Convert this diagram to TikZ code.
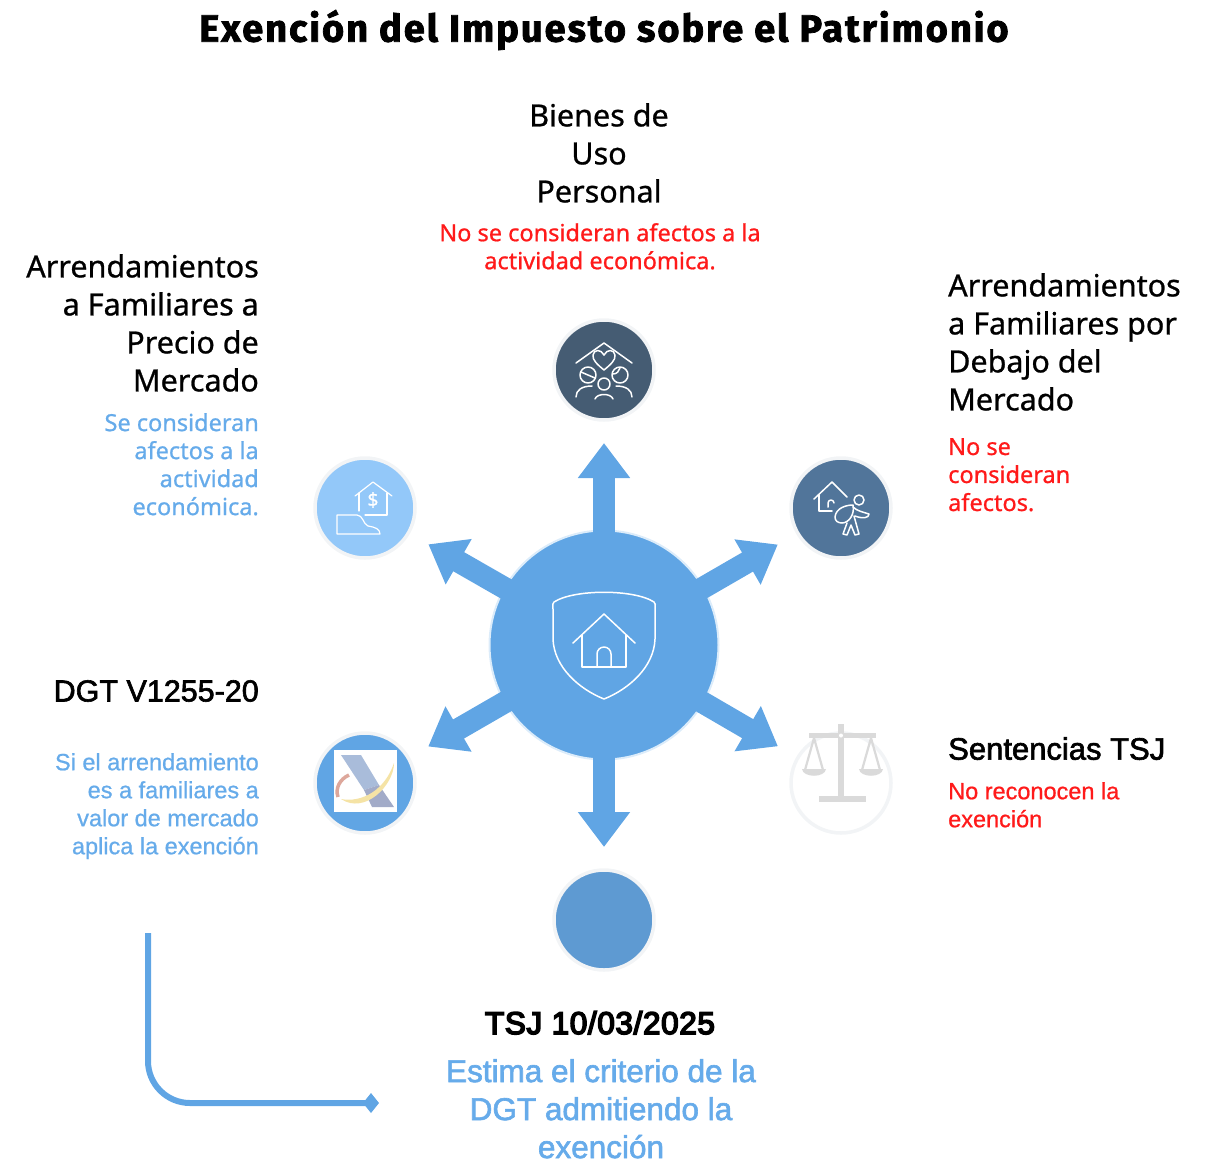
\documentclass[tikz,border=0pt]{standalone}
\usepackage{fontspec}
\setmainfont{Noto Sans}[FakeBold=0.8]
\newfontfamily\titlefont{Fira Sans Bold}[FakeBold=2,LetterSpace=5.2]
\newfontfamily\rfont{Liberation Sans}[FakeBold=0.8]
\newfontfamily\rfontm{Liberation Sans}[FakeBold=2]
\newfontfamily\rfontb{Liberation Sans}[FakeBold=5,LetterSpace=2]
\usetikzlibrary{arrows.meta,calc}
\definecolor{hubblue}{HTML}{60A5E4}
\definecolor{halo}{HTML}{DCECFA}
\definecolor{ringg}{HTML}{F2F4F6}
\definecolor{c1}{HTML}{455C73}
\definecolor{c2}{HTML}{51759A}
\definecolor{c3}{HTML}{93C8F9}
\definecolor{c4}{HTML}{5E9AD2}
\definecolor{subblue}{HTML}{66ABEA}
\definecolor{subred}{HTML}{FF1A1A}
\definecolor{scaleg}{HTML}{DADADA}
\definecolor{bandup}{HTML}{A9BCDA}
\definecolor{banddown}{HTML}{A2ABC8}
\definecolor{swoosh}{HTML}{F5E3A5}
\definecolor{arcred}{HTML}{DDA79B}
\tikzset{
  x=1pt,y=-1pt,
  bubble/.style={circle,minimum size=100pt,inner sep=0pt,outer sep=0pt,draw=ringg,line width=3.5pt},
  spoke/.style={draw=hubblue,line width=22pt,shorten >=23pt,shorten <=-3pt,
    -{Triangle[width=50pt,length=35pt,color=hubblue]}},
  head/.style={inner sep=0pt,font=\fontsize{30.5}{38}\selectfont,text=black},
  subtxt/.style={inner sep=0pt,font=\fontsize{23.5}{28}\selectfont},
  icon/.style={draw=white,line width=1.5pt,line join=round,line cap=round,fill=none},
}
\begin{document}
\begin{tikzpicture}
\useasboundingbox (0,0) rectangle (1210,1168);
% title
\node[inner sep=0pt,font=\fontsize{38}{44}\titlefont\selectfont,anchor=center] (title) at (604,30) {Exención del Impuesto sobre el Patrimonio};
% hub and bubbles
\node[circle,minimum size=229pt,inner sep=0pt,outer sep=0pt,fill=hubblue,draw=halo,line width=2pt] (hub) at (604,645) {};
\node[bubble,fill=c1] (top) at (604,370) {};
\node[bubble,fill=c2] (ne) at (841,508) {};
\node[bubble,fill=c3] (nw) at (365,508) {};
\node[bubble,fill=hubblue] (sw) at (365,783) {};
\node[bubble,fill=white] (se) at (841,783) {};
\node[bubble,fill=c4] (bot) at (604,920) {};
% spokes
\foreach \t in {top,ne,nw,sw,se,bot} \draw[spoke] (hub) -- (\t);
% hub icon
\begin{scope}[shift={(604,645)}]
\draw[icon] (-50,-43) .. controls (-30,-56) and (30,-56) .. (50,-43) .. controls (52,-42) and (51,-40) .. (51,-36) -- (51,-6) .. controls (50,22) and (25,44) .. (0,54) .. controls (-25,44) and (-50,22) .. (-51,-6) -- (-51,-36) .. controls (-51,-40) and (-52,-42) .. (-50,-43) -- cycle;
\draw[icon] (-31,-2) -- (0,-31) -- (31,-2);
\draw[icon] (-22,-10) -- (-22,22) -- (22,22) -- (22,-10);
\draw[icon] (-7,22) -- (-7,9) arc (180:360:7) -- (7,22);
\end{scope}
% family icon
\begin{scope}[shift={(604,370)}]
\draw[icon] (-28,-7) -- (0,-27) -- (28,-7);
\draw[icon] (0,0) .. controls (-6,-5) and (-12,-10) .. (-11,-15) .. controls (-10,-21) and (-3,-21) .. (0,-15) .. controls (3,-21) and (10,-21) .. (11,-15) .. controls (12,-10) and (6,-5) .. (0,0) -- cycle;
\draw[icon] (-16,5) circle[radius=8];
\draw[icon] (-23,2) -- (-9,8);
\draw[icon] (16,5) circle[radius=8];
\draw[icon] (9,4) .. controls (13,4) and (15,1) .. (16,-2);
\draw[icon] (0,14) circle[radius=6];
\draw[icon] (-28,27) .. controls (-28,20) and (-22,16) .. (-12,16);
\draw[icon] (28,27) .. controls (28,20) and (22,16) .. (12,16);
\draw[icon] (-9,29) .. controls (-7,23) and (7,23) .. (9,29);
\end{scope}
% below-market icon
\begin{scope}[shift={(841,508)}]
\draw[icon] (-27,-9) -- (-9,-26) -- (6,-11);
\draw[icon] (-22,-13) -- (-22,3) -- (-9,3);
\draw[icon] (-13,-1) -- (-13,-5) arc (180:360:3);
\draw[icon] (18,-8) circle[radius=5];
\draw[icon] (-6,9) .. controls (-5,0) and (5,-3) .. (12,-3) .. controls (14,6) and (8,15) .. (1,15) .. controls (-3,15) and (-6,13) .. (-6,9) -- cycle;
\draw[icon] (12,-1) .. controls (16,3) and (22,4) .. (28,6) .. controls (28,10) and (22,11) .. (14,8);
\draw[icon] (6,15) -- (2,26) -- (6,27) -- (10,17) -- (14,27) -- (18,26) -- (13,8);
\end{scope}
% market-price icon
\begin{scope}[shift={(365,508)}]
\draw[icon,line width=1.2pt] (-10,-12) -- (8,-26) -- (27,-12);
\draw[icon,line width=1.2pt] (-6,-15) -- (-6,3);
\draw[icon,line width=1.2pt] (22,-15) -- (22,7) -- (0,7);
\node[inner sep=0pt,text=white,font=\fontsize{19}{19}\selectfont] (dollar) at (8,-8) {\$};
\draw[icon,line width=1.2pt] (-28,7) -- (-28,26) -- (15,26) .. controls (15,21) and (10,19) .. (3,18) .. controls (-2,16) and (-2,7) .. (-8,7) -- cycle;
\end{scope}
% logo
\fill[white] (334,750) rectangle (397,812);
\fill[bandup] (341,755) -- (361,755) -- (379,785) -- (364,790) -- cycle;
\fill[banddown] (364,790) -- (379,785) -- (394,807) -- (372,807) -- cycle;
\fill[swoosh] (341,799) .. controls (362,803) and (385,790) .. (394,763) .. controls (394,785) and (365,815) .. (341,799) -- cycle;
\draw[line width=3.5pt,color=arcred] (338,797) .. controls (335,788) and (340,779) .. (349,775);
% scales
\begin{scope}[shift={(841,783)}]
\fill[scaleg] (-3,-59) rectangle (3,14);
\fill[scaleg] (-32,-50) rectangle (35,-45);
\fill[scaleg] (-22,13) rectangle (25,19);
\fill[white] (0,-47.5) circle[radius=2];
\draw[scaleg,line width=2.2pt] (-27,-45) -- (-36,-13) (-27,-45) -- (-18,-13);
\draw[scaleg,line width=2.2pt] (30,-45) -- (21,-13) (30,-45) -- (39,-13);
\fill[scaleg] (-39,-14) -- (-15,-14) .. controls (-16,-5) and (-38,-5) .. (-39,-14) -- cycle;
\fill[scaleg] (18,-14) -- (42,-14) .. controls (41,-5) and (19,-5) .. (18,-14) -- cycle;
\end{scope}
% curved connector
\coordinate (startc) at (148,933);
\coordinate (endc) at (379,1103);
\coordinate (cornerc) at (148,1103);
\draw[hubblue,line width=6pt,rounded corners=42pt,-{Diamond[width=20pt,length=16pt]}] (startc) -- (cornerc) -- (endc);
% texts
\node[head,align=center,anchor=north] (t1) at (599,103) {Bienes de\\Uso\\Personal};
\node[subtxt,align=center,anchor=north,text=subred] (t1s) at (600,223) {No se consideran afectos a la\\actividad económica.};
\node[head,align=right,anchor=north east] (t2) at (259,254) {Arrendamientos\\a Familiares a\\Precio de\\Mercado};
\node[subtxt,align=right,anchor=north east,text=subblue] (t2s) at (259,413) {Se consideran\\afectos a la\\actividad\\económica.};
\node[head,align=left,anchor=north west] (t3) at (948,273) {Arrendamientos\\a Familiares por\\Debajo del\\Mercado};
\node[subtxt,align=left,anchor=north west,text=subred] (t3s) at (948,438) {No se\\consideran\\afectos.};
\node[head,align=right,anchor=north east,font=\fontsize{30.5}{38}\rfontm\selectfont] (t4) at (259,680) {DGT V1255-20};
\node[subtxt,align=right,anchor=north east,text=subblue,font=\fontsize{23.5}{28}\rfont\selectfont] (t4s) at (259,753) {Si el arrendamiento\\es a familiares a\\valor de mercado\\aplica la exención};
\node[head,align=left,anchor=north west,font=\fontsize{31}{38}\rfontm\selectfont] (t5) at (948,737) {Sentencias TSJ};
\node[subtxt,align=left,anchor=north west,text=subred,font=\fontsize{23.5}{28}\rfont\selectfont] (t5s) at (948,782) {No reconocen la\\exención};
\node[head,align=center,anchor=north,font=\fontsize{31.5}{38}\rfontb\selectfont] (t6) at (600,1011) {TSJ 10/03/2025};
\node[head,align=center,anchor=north,text=subblue,font=\fontsize{31.5}{38}\rfontm\selectfont] (t6s) at (601,1059) {Estima el criterio de la\\DGT admitiendo la\\exención};
\end{tikzpicture}
\end{document}
